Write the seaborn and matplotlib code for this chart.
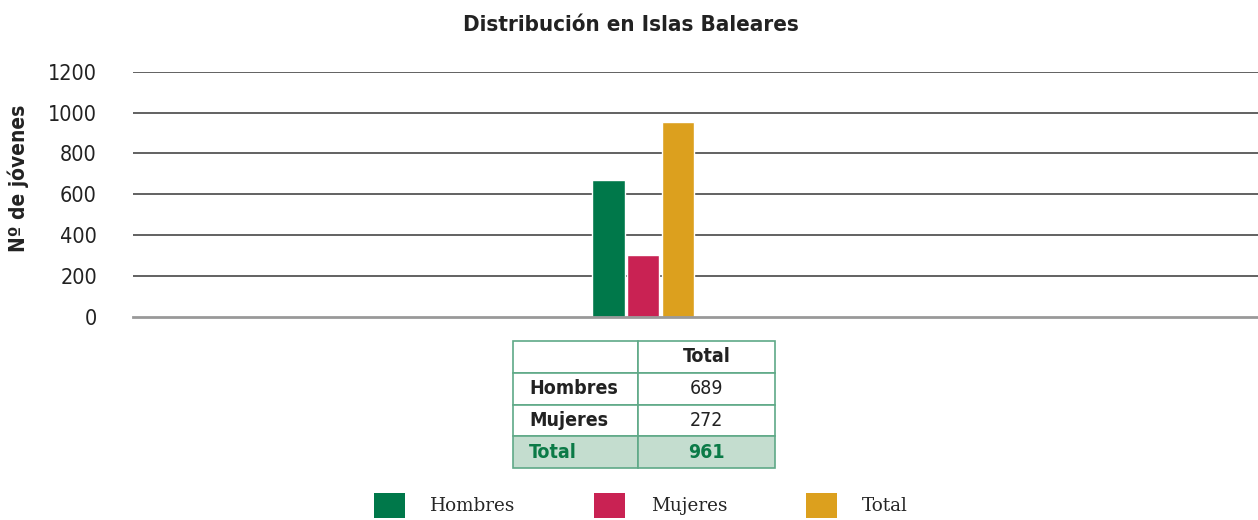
import matplotlib
matplotlib.use("Agg")
import matplotlib.pyplot as plt
import seaborn as sns
import pandas as pd
from matplotlib.patches import Patch

# Data
categories = ["Hombres", "Mujeres", "Total"]
bar_values = [670, 302, 954]          # bar heights as drawn
table_rows = ["Hombres", "Mujeres", "Total"]
table_values = ["689", "272", "961"]  # values printed in the table
y_ticks = [0, 200, 400, 600, 800, 1000, 1200]

colors = {"Hombres": "#00784a", "Mujeres": "#c92253", "Total": "#dca01e"}

sns.set_theme(style="white")
plt.rcParams['font.family'] = ['DejaVu Sans']
plt.rcParams['font.stretch'] = 'condensed'

W, H = 1258, 520
fig = plt.figure(figsize=(W / 100, H / 100), dpi=100)
ax = fig.add_axes([133 / W, 1 - 316.7 / H, 1125 / W, 245 / H])

df = pd.DataFrame({"cat": categories, "val": bar_values})
sns.barplot(data=df, x="cat", y="val", hue="cat", palette=colors,
            order=categories, width=0.93, legend=False, ax=ax, saturation=1)

ax.set_xlim(1 - 14.78, 1 - 14.78 + 32.6)
ax.set_ylim(0, 1200)
ax.set_yticks(y_ticks)
ax.set_yticklabels([str(t) for t in y_ticks], fontsize=15.5, color="#222222")
ax.tick_params(axis="y", length=0, pad=26)
ax.set_xticks([])
ax.set_xlabel("")
ax.set_ylabel("")
for s in ["top", "right", "left"]:
    ax.spines[s].set_visible(False)
ax.spines["bottom"].set_color("#999999")
ax.spines["bottom"].set_linewidth(2)
for t in y_ticks[1:]:
    ax.axhline(t, color="#555555", lw=1.3, zorder=0)

fig.text(631 / W, 1 - 25 / H, "Distribución en Islas Baleares",
         ha="center", va="center", fontsize=16, fontweight="bold", color="#222222")
fig.text(18 / W, 1 - 178 / H, "Nº de jóvenes", rotation=90,
         ha="center", va="center", fontsize=15, fontweight="bold", color="#222222")

# summary table below the bars
cell_text = [[r, v] for r, v in zip(table_rows, table_values)]
tbl = ax.table(cellText=[["", "Total"]] + cell_text,
               bbox=[(513 - 133) / 1125, (316.7 - 468) / 245, 262 / 1125, 127 / 245],
               colWidths=[125, 137])
tbl.auto_set_font_size(False)
tbl.set_fontsize(14)
edge = "#5fa987"
for (r, c), cell in tbl.get_celld().items():
    cell.set_edgecolor(edge)
    cell.set_linewidth(1.2)
    txt = cell.get_text()
    txt.set_color("#222222")
    txt.set_fontstretch("condensed")
    if c == 0:
        cell.set_text_props(ha="left")
        cell.PAD = 0.13
        txt.set_fontweight("bold")
    else:
        cell.set_text_props(ha="center")
    if r == 0:
        txt.set_fontweight("bold")
    if r == len(table_rows):
        cell.set_facecolor("#c4ddcf")
        txt.set_color("#0b7a47")
        txt.set_fontweight("bold")

handles = [Patch(facecolor=colors[c], edgecolor="none") for c in categories]
fig.legend(handles, categories, loc="upper center", bbox_to_anchor=(641 / W, 1 - 484 / H),
           ncol=3, frameon=False, handlelength=1.69, handleheight=1.69,
           handletextpad=1.37, columnspacing=4.3, borderpad=0,
           prop={"family": "DejaVu Serif", "stretch": "normal", "size": 13.2})

fig.savefig("out.png", dpi=100)
